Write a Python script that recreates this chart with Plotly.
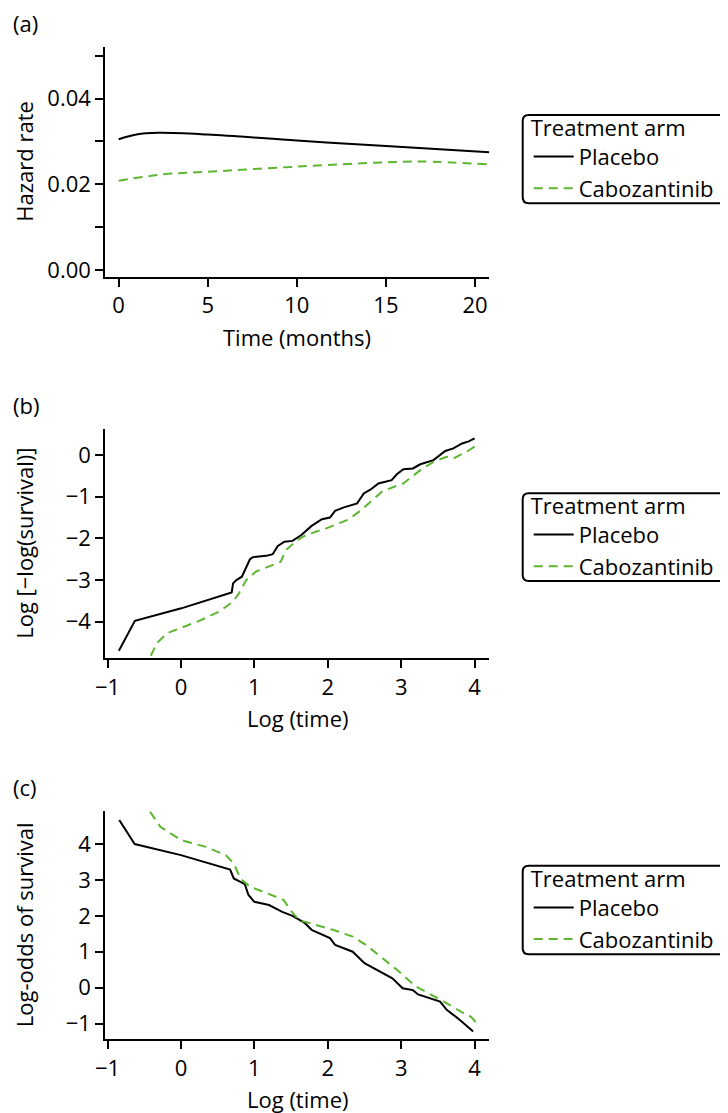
import plotly.graph_objects as go

W, H = 728, 1113
FONT = "Open Sans"
FS = 22
BLACK = "#000000"
GREEN = "#5DB530"
OFFX, OFFY = 8, 8  # page (body) margin compensation

# ---------------- data ----------------
# (a) smoothed hazard rate vs time (months)
haz_time_placebo = [0, 1, 2.2, 5, 10, 15, 20.8]
haz_placebo = [0.0305, 0.0316, 0.0320, 0.0316, 0.0302, 0.0289, 0.02747]
haz_time_cabo = [0, 2.5, 5, 10, 15, 17, 20.8]
haz_cabo = [0.0208, 0.0223, 0.0229, 0.0241, 0.0251, 0.0253, 0.0246]

# (b) log(-log(survival)) vs log(time)
b_x_placebo = [-0.845, -0.627, 0.005, 0.691, 0.71, 0.755, 0.83, 0.94, 0.98, 1.16, 1.25, 1.32,
               1.41, 1.52, 1.64, 1.78, 1.92, 2.03, 2.10, 2.21, 2.40, 2.49, 2.58, 2.69, 2.87,
               2.94, 3.03, 3.16, 3.26, 3.44, 3.60, 3.71, 3.83, 3.92, 4.00]
b_y_placebo = [-4.70, -3.98, -3.68, -3.30, -3.08, -3.00, -2.92, -2.50, -2.45, -2.42, -2.38, -2.18,
               -2.08, -2.06, -1.92, -1.70, -1.54, -1.50, -1.34, -1.26, -1.16, -0.92, -0.83, -0.68,
               -0.60, -0.46, -0.34, -0.32, -0.22, -0.12, 0.10, 0.16, 0.28, 0.33, 0.40]
b_x_cabo = [-0.41, -0.33, -0.19, 0.005, 0.25, 0.52, 0.71, 0.79, 0.89, 1.02, 1.16, 1.36, 1.43,
            1.57, 1.70, 1.98, 2.29, 2.47, 2.75, 3.03, 3.26, 3.44, 3.62, 3.71, 3.89, 4.05]
b_y_cabo = [-4.82, -4.52, -4.28, -4.14, -3.98, -3.76, -3.52, -3.32, -3.00, -2.80, -2.70, -2.56,
            -2.28, -2.06, -1.92, -1.76, -1.54, -1.30, -0.86, -0.68, -0.36, -0.16, -0.04, -0.08,
            0.08, 0.26]

# (c) log-odds of survival vs log(time)
c_x_placebo = [-0.84, -0.63, 0.0, 0.67, 0.72, 0.87, 0.92, 1.0, 1.2, 1.38, 1.52, 1.61, 1.68, 1.78,
               1.94, 2.03, 2.10, 2.34, 2.50, 2.68, 2.88, 3.02, 3.16, 3.23, 3.53, 3.62, 3.80, 3.98]
c_y_placebo = [4.67, 4.00, 3.69, 3.29, 3.04, 2.88, 2.58, 2.39, 2.30, 2.11, 2.00, 1.88, 1.81, 1.61,
               1.47, 1.38, 1.19, 1.00, 0.68, 0.49, 0.26, -0.02, -0.07, -0.19, -0.39, -0.62, -0.90,
               -1.22]
c_x_cabo = [-0.42, -0.28, 0.0, 0.34, 0.61, 0.72, 0.81, 0.94, 1.12, 1.40, 1.49, 1.61, 2.07, 2.34,
            2.52, 2.97, 3.20, 3.53, 3.89, 3.95, 4.05]
c_y_cabo = [4.90, 4.48, 4.11, 3.92, 3.69, 3.46, 3.04, 2.81, 2.67, 2.44, 2.16, 1.88, 1.61, 1.42,
            1.19, 0.45, 0.03, -0.33, -0.76, -0.81, -1.04]

series_names = ["Placebo", "Cabozantinib"]
legend_title = "Treatment arm"
panel_labels = ["(a)", "(b)", "(c)"]
x_titles = ["Time (months)", "Log (time)", "Log (time)"]
y_titles = ["Hazard rate", "Log [\u2212log(survival)]", "Log-odds of survival"]
a_ytick_vals = [0, 0.01, 0.02, 0.03, 0.04, 0.05]
a_ytick_text = ["0.00", "", "0.02", "", "0.04", ""]

# ---------------- layout helpers ----------------
def px(x):
    return (x - OFFX) / W

def py(y):
    return 1 - (y - OFFY) / H

PLOT_L, PLOT_R = 105.3, 489.3
panels = [  # top, bottom pixel of plot area (as seen on the page)
    (46.7, 276.7),
    (429.3, 658.3),
    (811.0, 1039.3),
]
legend_boxes = [(115.0, 203.3), (493.3, 581.0), (865.7, 954.3)]

fig = go.Figure()

data = [
    (haz_time_placebo, haz_placebo, haz_time_cabo, haz_cabo),
    (b_x_placebo, b_y_placebo, b_x_cabo, b_y_cabo),
    (c_x_placebo, c_y_placebo, c_x_cabo, c_y_cabo),
]
for i, (xp, yp, xc, yc) in enumerate(data):
    sfx = "" if i == 0 else str(i + 1)
    lg = "legend" + sfx
    shape = "spline" if i == 0 else "linear"
    fig.add_trace(go.Scatter(x=xp, y=yp, mode="lines", name=series_names[0],
                             line=dict(color=BLACK, width=2, shape=shape),
                             xaxis="x" + sfx, yaxis="y" + sfx, legend=lg))
    fig.add_trace(go.Scatter(x=xc, y=yc, mode="lines", name=series_names[1],
                             line=dict(color=GREEN, width=2, dash="9px,6px", shape=shape),
                             xaxis="x" + sfx, yaxis="y" + sfx, legend=lg))

axis_common = dict(showline=True, linecolor=BLACK, linewidth=2, ticks="outside",
                   ticklen=8, tickwidth=2, tickcolor=BLACK, showgrid=False, zeroline=False,
                   automargin=False,
                   tickfont=dict(family=FONT, size=FS, color=BLACK), fixedrange=True)

x_ranges = [[-0.75, 20.8], [-1.03, 4.2], [-1.03, 4.2]]
y_ranges = [[-0.0016, 0.0521], [-4.88, 0.62], [-1.44, 4.92]]

layout = dict(
    width=W, height=H, margin=dict(l=0, r=0, t=0, b=0, autoexpand=False),
    paper_bgcolor="white", plot_bgcolor="white",
    font=dict(family=FONT, size=FS, color=BLACK),
    annotations=[], shapes=[],
)

for i, (top, bot) in enumerate(panels):
    sfx = "" if i == 0 else str(i + 1)
    xa = dict(axis_common, domain=[px(PLOT_L), px(PLOT_R)], range=x_ranges[i],
              anchor="y" + sfx)
    ya = dict(axis_common, domain=[py(bot), py(top)], range=y_ranges[i],
              anchor="x" + sfx)
    if i == 0:
        xa.update(tickvals=[0, 5, 10, 15, 20])
        ya.update(tickvals=a_ytick_vals, ticktext=a_ytick_text)
    else:
        xa.update(tickvals=[-1, 0, 1, 2, 3, 4])
        if i == 1:
            ya.update(tickvals=[-4, -3, -2, -1, 0])
        else:
            ya.update(tickvals=[-1, 0, 1, 2, 3, 4])
    layout["xaxis" + sfx] = xa
    layout["yaxis" + sfx] = ya

    # panel label
    layout["annotations"].append(dict(text=panel_labels[i], xref="paper", yref="paper",
                                      x=px(11), y=py(top - 24), xanchor="left",
                                      yanchor="middle", showarrow=False,
                                      font=dict(family=FONT, size=FS, color=BLACK)))
    # axis titles
    layout["annotations"].append(dict(text=x_titles[i], xref="paper", yref="paper",
                                      x=px((PLOT_L + PLOT_R) / 2), y=py(bot + 60),
                                      xanchor="center", yanchor="middle", showarrow=False,
                                      font=dict(family=FONT, size=FS, color=BLACK)))
    layout["annotations"].append(dict(text=y_titles[i], xref="paper", yref="paper",
                                      x=px(24), y=py((top + bot) / 2), textangle=-90,
                                      xanchor="center", yanchor="middle", showarrow=False,
                                      font=dict(family=FONT, size=FS, color=BLACK)))

    # legend + rounded box
    bt, bb = legend_boxes[i]
    bl, br = 522.7, 727.5
    r = 6
    path = (f"M {px(bl + r)},{py(bt)} L {px(br - r)},{py(bt)} "
            f"Q {px(br)},{py(bt)} {px(br)},{py(bt + r)} "
            f"L {px(br)},{py(bb - r)} Q {px(br)},{py(bb)} {px(br - r)},{py(bb)} "
            f"L {px(bl + r)},{py(bb)} Q {px(bl)},{py(bb)} {px(bl)},{py(bb - r)} "
            f"L {px(bl)},{py(bt + r)} Q {px(bl)},{py(bt)} {px(bl + r)},{py(bt)} Z")
    layout["shapes"].append(dict(type="path", xref="paper", yref="paper", path=path,
                                 line=dict(color=BLACK, width=2), fillcolor="rgba(0,0,0,0)"))
    layout["legend" + sfx] = dict(
        title=dict(text=legend_title, font=dict(family=FONT, size=FS, color=BLACK)),
        x=px(bl + 6), y=py((bt + bb) / 2 - 1), xanchor="left", yanchor="middle",
        bgcolor="rgba(0,0,0,0)", borderwidth=0,
        font=dict(family=FONT, size=FS, color=BLACK),
        tracegroupgap=0, itemwidth=40,
    )

fig.update_layout(**layout)
fig.write_html("out.html")
